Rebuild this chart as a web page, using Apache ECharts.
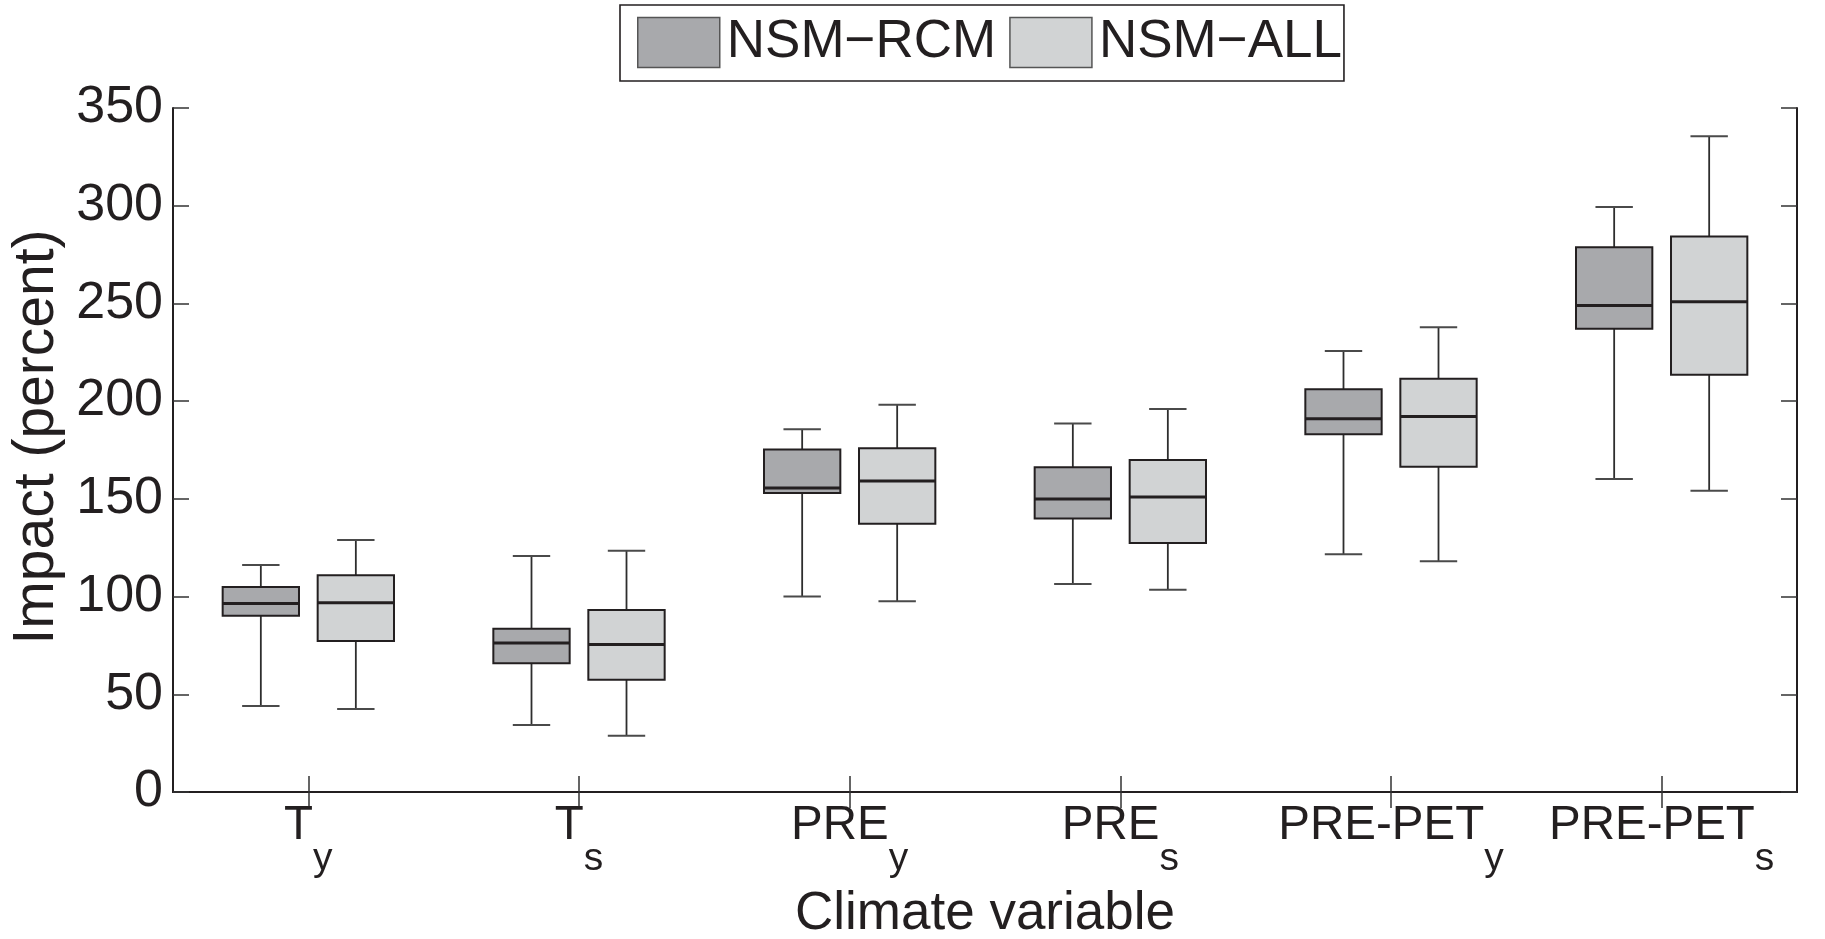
<!DOCTYPE html>
<html>
<head>
<meta charset="utf-8">
<script src="https://cdn.jsdelivr.net/npm/echarts@6/dist/echarts.min.js"></script>
<style>
html,body{margin:0;padding:0;background:#fff;}
#chart{width:1825px;height:939px;}
</style>
</head>
<body>
<div id="chart"></div>
<script>
// ---- data ----
const catMain = ['T', 'T', 'PRE', 'PRE', 'PRE-PET', 'PRE-PET'];
const catSub = ['y', 's', 'y', 's', 'y', 's'];
const yTicks = [0, 50, 100, 150, 200, 250, 300, 350];
const seriesNames = ['NSM\u2212RCM', 'NSM\u2212ALL'];
// [min, Q1, median, Q3, max] per category
const rcmStats = [
  [44.0, 90.2, 96.4, 104.9, 116.2],
  [34.3, 65.9, 76.3, 83.5, 120.8],
  [100.0, 153.0, 155.6, 175.2, 185.6],
  [106.4, 139.9, 149.9, 166.2, 188.5],
  [121.6, 183.1, 191.0, 206.1, 225.7],
  [160.1, 237.0, 248.9, 278.7, 299.3]
];
const allStats = [
  [42.5, 77.3, 96.9, 110.9, 129.0],
  [28.8, 57.4, 75.5, 93.1, 123.5],
  [97.6, 137.2, 159.2, 175.9, 198.1],
  [103.5, 127.4, 151.0, 169.9, 196.0],
  [118.1, 166.4, 192.2, 211.4, 237.8],
  [154.2, 213.5, 250.9, 284.2, 335.6]
];

const FONT = "'Liberation Sans', Arial, Helvetica, sans-serif";
const INK = '#231f20';
const catKeys = catMain.map((m, i) => m + '_' + catSub[i]);

function toData(stats) {
  return stats.map((s, i) => [i, s[0], s[1], s[2], s[3], s[4]]);
}

function makeRender(offsetFrac, fill) {
  return function (params, api) {
    const xi = api.value(0);
    const band = api.size([1, 0])[0];
    const cx = api.coord([xi, 0])[0] + offsetFrac * band;
    const w = band * 0.282;
    const cap = w * 0.49;
    const yMin = api.coord([xi, api.value(1)])[1];
    const yQ1 = api.coord([xi, api.value(2)])[1];
    const yMed = api.coord([xi, api.value(3)])[1];
    const yQ3 = api.coord([xi, api.value(4)])[1];
    const yMax = api.coord([xi, api.value(5)])[1];
    const wStyle = { stroke: '#2e2e2e', lineWidth: 1.8 };
    const cStyle = { stroke: '#4a4a4a', lineWidth: 2 };
    return {
      type: 'group',
      children: [
        { type: 'line', shape: { x1: cx, y1: yQ3, x2: cx, y2: yMax }, style: wStyle },
        { type: 'line', shape: { x1: cx, y1: yQ1, x2: cx, y2: yMin }, style: wStyle },
        { type: 'line', shape: { x1: cx - cap / 2, y1: yMax, x2: cx + cap / 2, y2: yMax }, style: cStyle },
        { type: 'line', shape: { x1: cx - cap / 2, y1: yMin, x2: cx + cap / 2, y2: yMin }, style: cStyle },
        { type: 'rect', shape: { x: cx - w / 2, y: yQ3, width: w, height: yQ1 - yQ3 },
          style: { fill: fill, stroke: INK, lineWidth: 2 } },
        { type: 'line', shape: { x1: cx - w / 2, y1: yMed, x2: cx + w / 2, y2: yMed },
          style: { stroke: INK, lineWidth: 3 } }
      ]
    };
  };
}

const fills = ['#a8a9ac', '#d1d3d4'];

const chart = echarts.init(document.getElementById('chart'), null, { renderer: 'canvas' });
const option = {
  animation: false,
  backgroundColor: '#ffffff',
  textStyle: { fontFamily: FONT, color: INK },
  grid: { left: 173, right: 28, top: 108, bottom: 147, containLabel: false, outerBoundsMode: 'none' },
  legend: {
    left: 620, top: 5,
    padding: [11, 2, 12, 17],
    borderColor: INK, borderWidth: 1.6,
    itemWidth: 82, itemHeight: 50, itemGap: 13,
    textStyle: { fontSize: 53, fontFamily: FONT, color: INK, padding: [0, 0, 0, 2] },
    data: [
      { name: seriesNames[0], icon: 'rect', itemStyle: { color: fills[0], borderColor: '#555', borderWidth: 1.5 } },
      { name: seriesNames[1], icon: 'rect', itemStyle: { color: fills[1], borderColor: '#555', borderWidth: 1.5 } }
    ]
  },
  xAxis: [
    {
      type: 'category', data: catKeys, boundaryGap: true,
      axisLine: { show: true, lineStyle: { color: INK, width: 2 } },
      axisTick: { show: true, inside: true, alignWithLabel: true, length: 16, lineStyle: { color: '#333', width: 1.5 } },
      axisLabel: {
        interval: 0, margin: 10, color: INK, fontFamily: FONT,
        formatter: function (v, i) { return '{m|' + catMain[i] + '}{s|' + catSub[i] + '}'; },
        rich: {
          m: { fontSize: 47.5, lineHeight: 50, verticalAlign: 'top', fontFamily: FONT, color: INK },
          s: { fontSize: 39, lineHeight: 114, verticalAlign: 'middle', fontFamily: FONT, color: INK }
        }
      },
      name: 'Climate variable', nameLocation: 'middle', nameGap: 96,
      nameTextStyle: { fontSize: 53, fontFamily: FONT, color: INK },
      splitLine: { show: false }
    },
    {
      type: 'category', data: catKeys, boundaryGap: true, position: 'top',
      axisLine: { show: true, lineStyle: { color: INK, width: 2 } },
      axisTick: { show: true, inside: true, alignWithLabel: true, length: 16, lineStyle: { color: '#333', width: 1.5 } },
      axisLabel: { show: false },
      splitLine: { show: false }
    }
  ],
  yAxis: [
    {
      type: 'value', min: yTicks[0], max: yTicks[yTicks.length - 1], interval: yTicks[1] - yTicks[0],
      axisLine: { show: true, lineStyle: { color: INK, width: 2 } },
      axisTick: { show: true, inside: true, length: 16, lineStyle: { color: '#333', width: 1.5 } },
      axisLabel: { fontSize: 52, margin: 10, color: INK, fontFamily: FONT },
      splitLine: { show: false },
      name: 'Impact (percent)', nameLocation: 'middle', nameGap: 106,
      nameTextStyle: { fontSize: 57, fontFamily: FONT, color: INK, padding: [0, 0, 0, 26] }
    },
    {
      type: 'value', position: 'right', min: yTicks[0], max: yTicks[yTicks.length - 1], interval: yTicks[1] - yTicks[0],
      axisLine: { show: true, lineStyle: { color: INK, width: 2 } },
      axisTick: { show: true, inside: true, length: 16, lineStyle: { color: '#333', width: 1.5 } },
      axisLabel: { show: false },
      splitLine: { show: false }
    }
  ],
  series: [
    {
      name: seriesNames[0], type: 'custom', xAxisIndex: 0, yAxisIndex: 0,
      itemStyle: { color: fills[0] },
      renderItem: makeRender(-0.1755, fills[0]),
      encode: { x: 0, y: [1, 2, 3, 4, 5] },
      data: toData(rcmStats), clip: false, z: 3
    },
    {
      name: seriesNames[1], type: 'custom', xAxisIndex: 0, yAxisIndex: 0,
      itemStyle: { color: fills[1] },
      renderItem: makeRender(0.1755, fills[1]),
      encode: { x: 0, y: [1, 2, 3, 4, 5] },
      data: toData(allStats), clip: false, z: 3
    }
  ]
};
chart.setOption(option);
</script>
</body>
</html>
